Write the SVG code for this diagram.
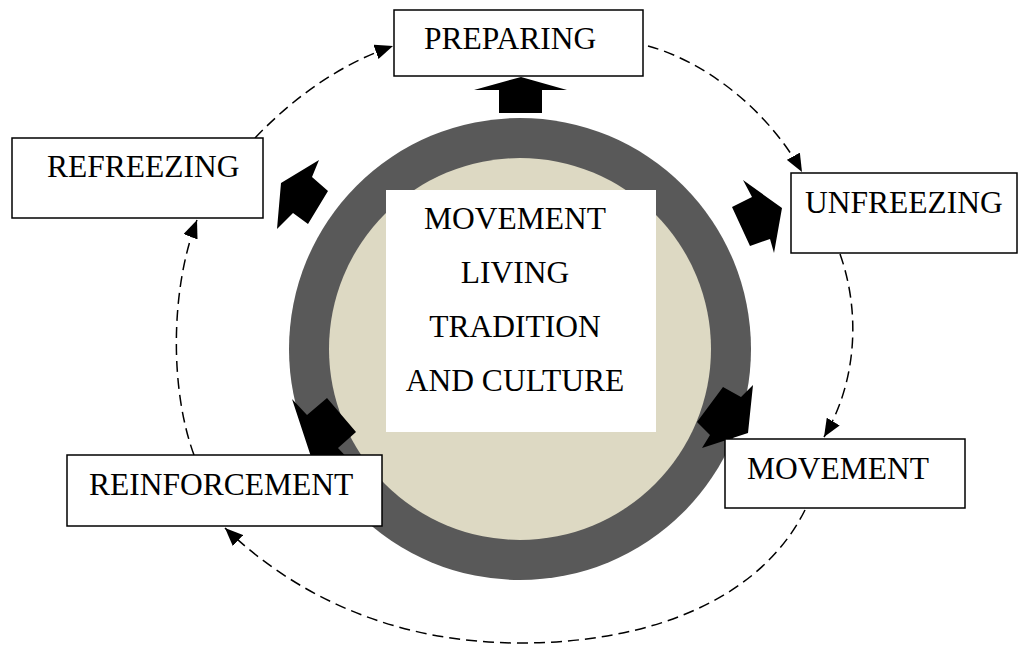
<svg xmlns="http://www.w3.org/2000/svg" width="1020" height="671" viewBox="0 0 1020 671">
<style>
.box{fill:#fff;stroke:#000;stroke-width:1.5}
.lbl{font-family:"Liberation Serif","Times New Roman",serif;font-size:31.5px;fill:#000}
.ctr{font-family:"Liberation Serif","Times New Roman",serif;font-size:31.5px;fill:#000;text-anchor:middle}
.dash{fill:none;stroke:#000;stroke-width:1.5;stroke-dasharray:11 6;marker-end:url(#ah)}
.blk{fill:#000}
</style>
<defs>
<marker id="ah" markerWidth="18" markerHeight="15" refX="18" refY="7.5" orient="auto" markerUnits="userSpaceOnUse">
<path d="M0,0 L18,7.5 L0,15 Z" fill="#000"/>
</marker>
</defs>
<rect width="1020" height="671" fill="#fff"/>
<g id="hub">
<circle cx="520" cy="349" r="231" fill="#595959"/>
<circle cx="520" cy="349" r="191" fill="#ddd9c3"/>
<rect x="386" y="190" width="270" height="242" fill="#fff"/>
<text class="ctr" x="515" y="229">MOVEMENT</text>
<text class="ctr" x="515" y="283">LIVING</text>
<text class="ctr" x="515" y="337">TRADITION</text>
<text class="ctr" x="515" y="391">AND CULTURE</text>
</g>
<g id="block-arrows">
<polygon class="blk" points="499,113 499,90 474,90 521,77 567,90 542,90 542,113"/>
<polygon class="blk" points="319,160 312,177 328,191 308,224 293,213 277,229 281,183"/>
<polygon class="blk" points="743,180 752,197 732,207 750,246 770,239 774,253 782,208"/>
<polygon class="blk" points="748,433 753,385 741,397 723,387 697,422 710,435 702,448"/>
<polygon class="blk" points="292,399 307,415 327,398 356,432 338,448 353,464 316,472"/>
</g>
<g id="connectors">
<path class="dash" d="M255 138 Q318 72 393 46"/>
<path class="dash" d="M648 46 C700 60 765 105 802 172"/>
<path class="dash" d="M840 254 C860 310 858 380 824 437"/>
<path class="dash" d="M805 510 C760 600 650 643 520 643 C400 643 300 600 225 528"/>
<path class="dash" d="M194 455 C170 390 170 290 197 220"/>
</g>
<g id="preparing">
<rect class="box" x="394" y="10" width="249" height="66"/>
<text class="lbl" x="424" y="49">PREPARING</text>
</g>
<g id="unfreezing">
<rect class="box" x="791" y="173" width="226" height="80"/>
<text class="lbl" x="805" y="213">UNFREEZING</text>
</g>
<g id="movement">
<rect class="box" x="725" y="439" width="240" height="69"/>
<text class="lbl" x="747" y="479">MOVEMENT</text>
</g>
<g id="reinforcement">
<rect class="box" x="67" y="455" width="315" height="71"/>
<text class="lbl" x="89" y="495">REINFORCEMENT</text>
</g>
<g id="refreezing">
<rect class="box" x="12" y="138" width="251" height="80"/>
<text class="lbl" x="47" y="177">REFREEZING</text>
</g>
</svg>
